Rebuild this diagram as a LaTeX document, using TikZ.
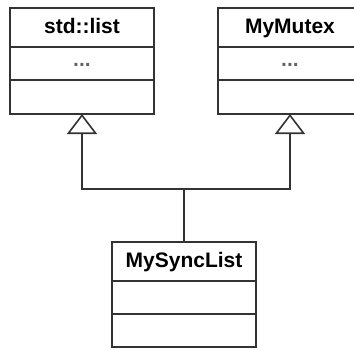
\documentclass[tikz,border=0pt]{standalone}
\usepackage{fontspec}
\setmainfont{Liberation Sans}
\usetikzlibrary{positioning,arrows.meta}

\begin{document}
\begin{tikzpicture}[x=1pt,y=-1pt,
  part/.style={draw=black!80,line width=1.8pt,minimum width=144pt,inner sep=0pt,
    outer sep=0pt,text height=15pt,text depth=4pt,
    font=\fontsize{21}{25}\selectfont\bfseries},
  head/.style={part,minimum height=39pt},
  cell/.style={part,minimum height=33pt},
  dots/.style={cell,text height=5pt,text depth=0pt,text=black!60},
  link/.style={draw=black!80,line width=1.8pt},
  inherit/.style={link,-{Triangle[open,length=20pt,width=30pt,line width=1.6pt]}}]
\clip (0,0) rectangle (354,349);
% base classes
\node[head] (list) at (82,27.5) {std::list};
\node[dots,below=0pt of list] (listattr) {...};
\node[cell,minimum height=34pt,below=0pt of listattr] (listops) {};
\node[head] (mutex) at (290,27.5) {MyMutex};
\node[dots,below=0pt of mutex] (mutexattr) {...};
\node[cell,minimum height=34pt,below=0pt of mutexattr] (mutexops) {};
% derived class
\node[head] (sync) at (184,261.5) {MySyncList};
\node[cell,below=0pt of sync] (syncattr) {};
\node[cell,below=0pt of syncattr] (syncops) {};
% generalization
\coordinate (join) at (184,189);
\draw[link] (sync.north) -- (join);
\draw[inherit] (join) -| (listops.south);
\draw[inherit] (join) -| (mutexops.south);
\end{tikzpicture}
\end{document}
